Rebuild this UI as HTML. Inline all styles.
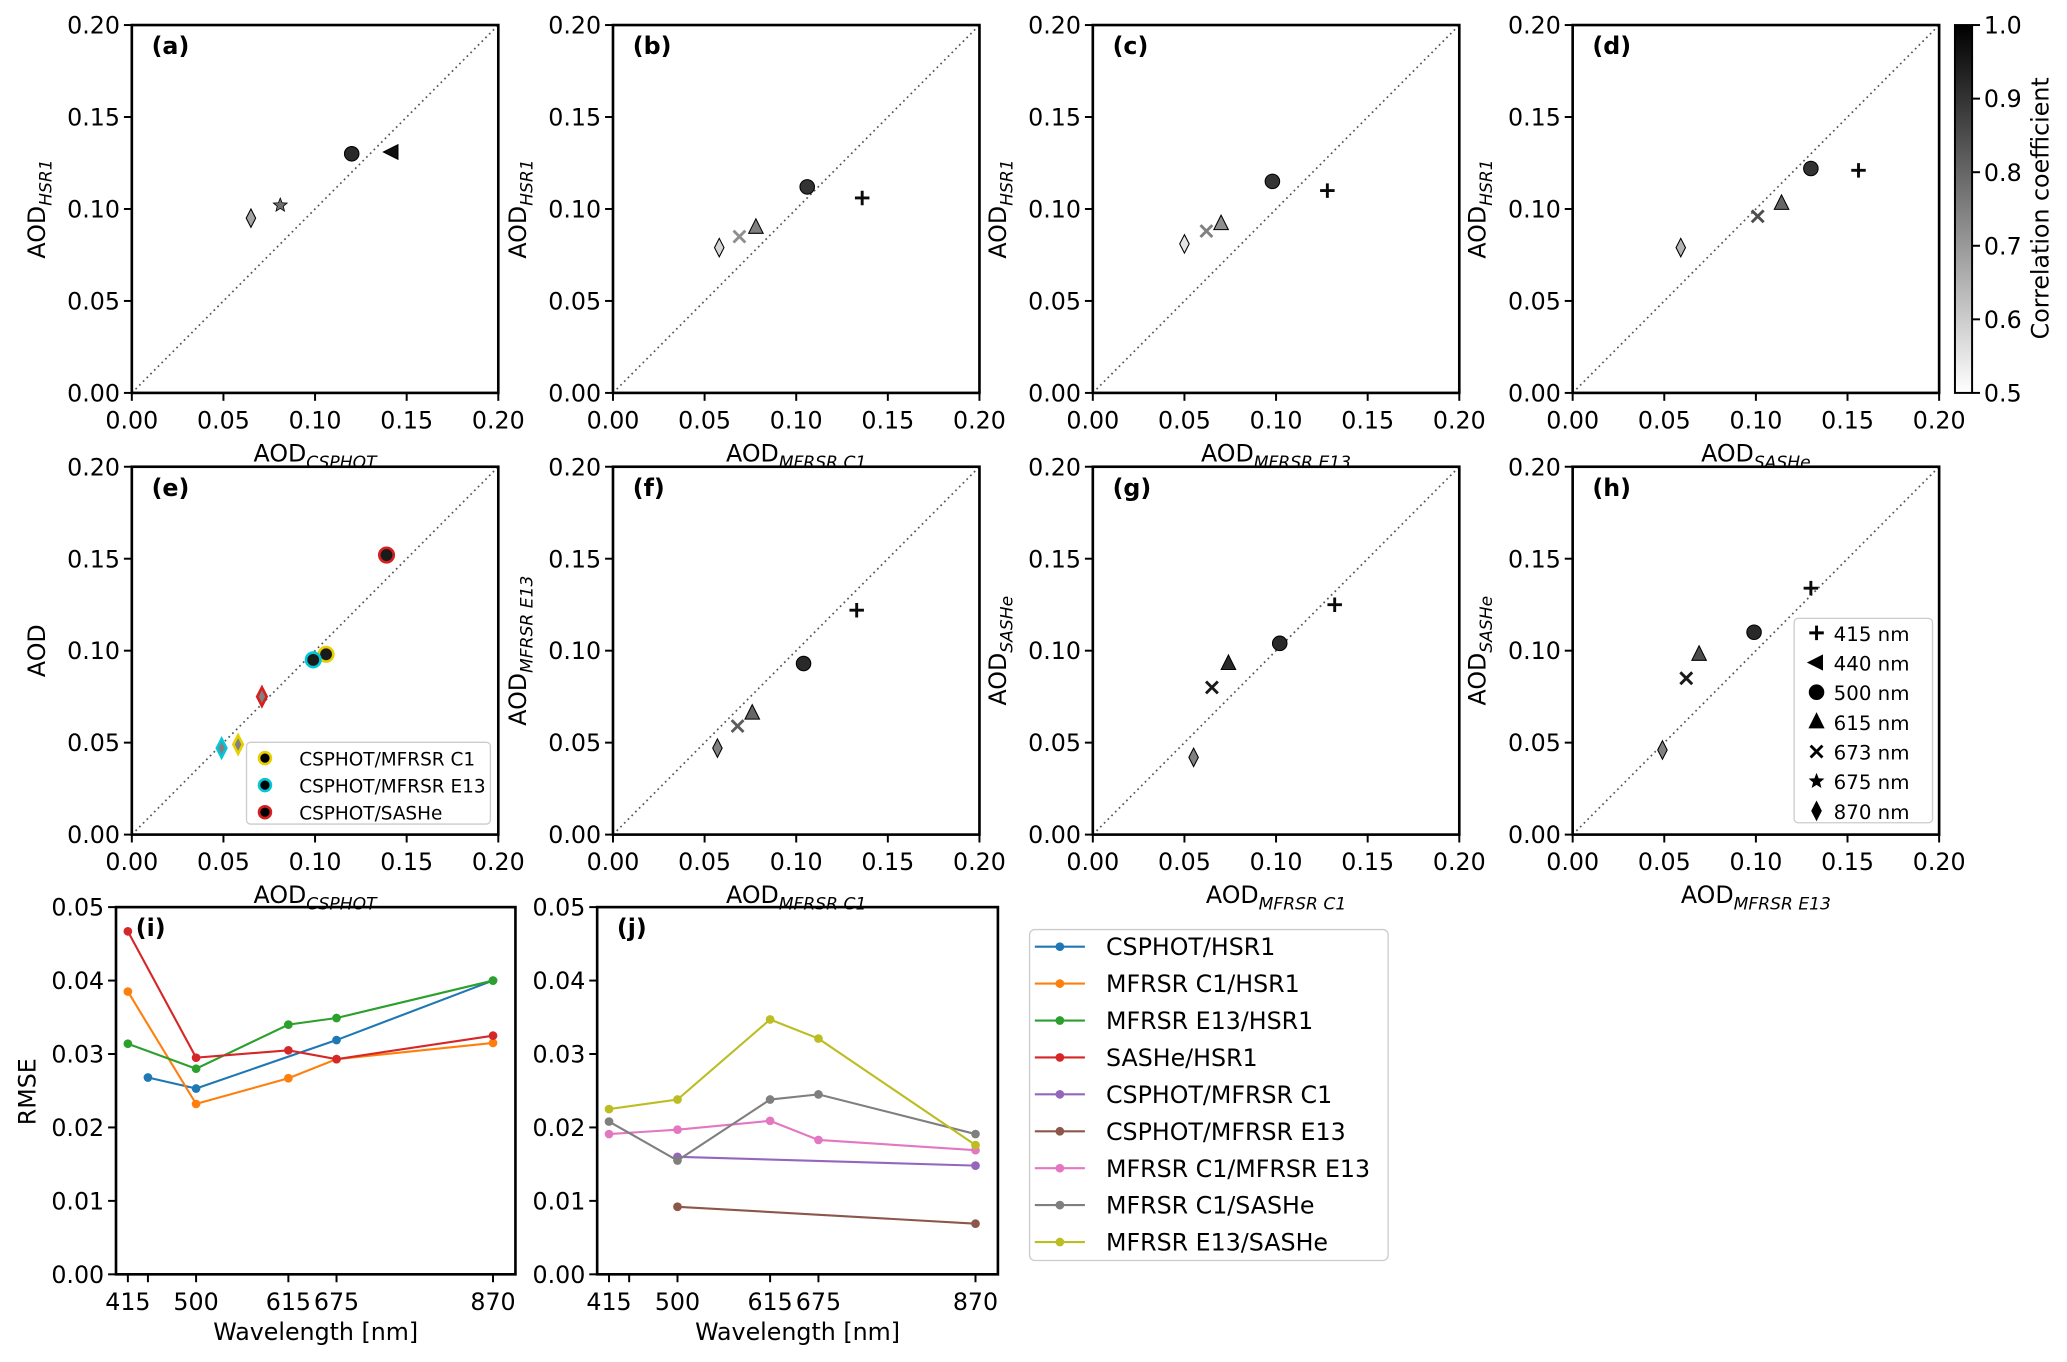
<!DOCTYPE html>
<html><head><meta charset="utf-8"><style>
html,body{margin:0;padding:0;background:#fff}
svg{display:block}
text{font-family:"DejaVu Sans","Liberation Sans",sans-serif;fill:#000}
</style></head><body>
<svg id="fig" xmlns="http://www.w3.org/2000/svg" width="2067" height="1362" viewBox="0 0 1568 1033" preserveAspectRatio="none">
<defs>
<linearGradient id="cbg" x1="0" y1="1" x2="0" y2="0"><stop offset="0" stop-color="#fff"/><stop offset="1" stop-color="#000"/></linearGradient>
</defs>
</svg>
<script>
// ---------- scatter data ----------
const aX=[0.142,0.120,0.081,0.065], aY=[0.131,0.130,0.102,0.095], aM=['tl','o','*','d'], aC=[0.97,0.92,0.78,0.68];
const bX=[0.136,0.106,0.078,0.069,0.058], bY=[0.106,0.112,0.090,0.085,0.079], bM=['+','o','^','x','d'], bC=[0.98,0.90,0.75,0.72,0.58];
const cX=[0.128,0.098,0.070,0.062,0.050], cY=[0.110,0.115,0.092,0.088,0.081], cM=['+','o','^','x','d'], cC=[0.98,0.90,0.72,0.75,0.55];
const dX=[0.156,0.130,0.114,0.101,0.059], dY=[0.121,0.122,0.103,0.096,0.079], dM=['+','o','^','x','d'], dC=[0.98,0.90,0.80,0.85,0.65];
const eX=[0.106,0.058,0.099,0.049,0.139,0.071], eY=[0.098,0.049,0.095,0.047,0.152,0.075], eM=['o','d','o','d','o','d'], eC=[0.95,0.75,0.95,0.75,0.95,0.75];
const eEdge=['#e6d000','#e6d000','#00c8d8','#00c8d8','#d62020','#d62020'];
const fX=[0.133,0.104,0.076,0.068,0.057], fY=[0.122,0.093,0.066,0.059,0.047], fM=['+','o','^','x','d'], fC=[0.98,0.92,0.80,0.82,0.75];
const gX=[0.132,0.102,0.074,0.065,0.055], gY=[0.125,0.104,0.093,0.080,0.042], gM=['+','o','^','x','d'], gC=[0.98,0.92,0.92,0.95,0.75];
const hX=[0.130,0.099,0.069,0.062,0.049], hY=[0.134,0.110,0.098,0.085,0.046], hM=['+','o','^','x','d'], hC=[0.98,0.92,0.85,0.95,0.75];
const aodTicks=['0.00','0.05','0.10','0.15','0.20'];
// ---------- line data ----------
const wlTicks=[415,440,500,615,675,870];
const wlLabels=['415','','500','615','675','870'];
const rmseTicks=['0.00','0.01','0.02','0.03','0.04','0.05'];
const sCsHsrW=[440,500,675,870], sCsHsr=[0.0268,0.0253,0.0319,0.0400];
const sC1HsrW=[415,500,615,675,870], sC1Hsr=[0.0385,0.0232,0.0267,0.0293,0.0315];
const sE13HsrW=[415,500,615,675,870], sE13Hsr=[0.0314,0.0280,0.0340,0.0349,0.0400];
const sSasHsrW=[415,500,615,675,870], sSasHsr=[0.0467,0.0295,0.0305,0.0293,0.0325];
const sCsC1W=[500,870], sCsC1=[0.0160,0.0148];
const sCsE13W=[500,870], sCsE13=[0.0092,0.0069];
const sC1E13W=[415,500,615,675,870], sC1E13=[0.0191,0.0197,0.0209,0.0183,0.0169];
const sC1SasW=[415,500,615,675,870], sC1Sas=[0.0208,0.0155,0.0238,0.0245,0.0191];
const sE13SasW=[415,500,615,675,870], sE13Sas=[0.0225,0.0238,0.0347,0.0321,0.0176];
const legendNames=['CSPHOT/HSR1','MFRSR C1/HSR1','MFRSR E13/HSR1','SASHe/HSR1','CSPHOT/MFRSR C1','CSPHOT/MFRSR E13','MFRSR C1/MFRSR E13','MFRSR C1/SASHe','MFRSR E13/SASHe'];
const legendColors=['#1f77b4','#ff7f0e','#2ca02c','#d62728','#9467bd','#8c564b','#e377c2','#7f7f7f','#bcbd22'];

const NS='http://www.w3.org/2000/svg';
const svg=document.getElementById('fig');
function mk(tag,attrs,parent){const e=document.createElementNS(NS,tag);for(const k in attrs)e.setAttribute(k,attrs[k]);(parent||svg).appendChild(e);return e;}
function txt(s,x,y,size,anchor,parent,extra){const t=mk('text',Object.assign({x:x,y:y,'font-size':size,'text-anchor':anchor||'start'},extra||{}),parent);t.innerHTML=s;return t;}
function gray(c){const v=Math.round(255*(1-(c-0.5)/0.5));return 'rgb('+v+','+v+','+v+')';}

function marker(g,type,x,y,fill,edge){
  let e;const r=5.5;
  if(type==='o')e=mk('circle',{cx:x,cy:y,r:r,fill:fill,stroke:edge,'stroke-width':edge==='#000'?0.8:2},g);
  else if(type==='^')e=mk('polygon',{points:`${x},${y-r-1} ${x-r},${y+r-1} ${x+r},${y+r-1}`,fill:fill,stroke:'#000','stroke-width':0.8},g);
  else if(type==='tl')e=mk('polygon',{points:`${x-r-1},${y} ${x+r-1},${y-r} ${x+r-1},${y+r}`,fill:fill,stroke:'#000','stroke-width':0.8},g);
  else if(type==='d')e=mk('polygon',{points:`${x},${y-r-1.5} ${x-3.6},${y} ${x},${y+r+1.5} ${x+3.6},${y}`,fill:fill,stroke:edge,'stroke-width':edge==='#000'?0.8:2},g);
  else if(type==='+')e=mk('path',{d:`M${x-r},${y}H${x+r}M${x},${y-r}V${y+r}`,stroke:fill,'stroke-width':2.2,fill:'none'},g);
  else if(type==='x')e=mk('path',{d:`M${x-4.5},${y-4.5}L${x+4.5},${y+4.5}M${x-4.5},${y+4.5}L${x+4.5},${y-4.5}`,stroke:fill,'stroke-width':2.2,fill:'none'},g);
  else if(type==='*'){let p=[];for(let i=0;i<10;i++){const a=-Math.PI/2+i*Math.PI/5;const rr=i%2?2.4:5.5;p.push((x+rr*Math.cos(a)).toFixed(2)+','+(y+rr*Math.sin(a)).toFixed(2));}e=mk('polygon',{points:p.join(' '),fill:fill,stroke:'#000','stroke-width':0.6},g);}
  return e;
}

function scatterPanel(id,L,T,xs,ys,ms,cs,letter,xlab,xsub,ylab,ysub,edges){
  const W=278,H=279;
  const g=mk('g',{});
  
  
  const sx=v=>L+v/0.2*W, sy=v=>T+H-v/0.2*H;
  mk('line',{x1:sx(0),y1:sy(0),x2:sx(0.2),y2:sy(0.2),stroke:'#555','stroke-width':1.3,'stroke-dasharray':'1.3,2.7'},g);
  aodTicks.forEach((t,i)=>{const v=+t;
    mk('line',{x1:sx(v),y1:T+H,x2:sx(v),y2:T+H+6,stroke:'#000','stroke-width':1.5},g);
    txt(t,sx(v),T+H+27,18,'middle',g);
    mk('line',{x1:L,y1:sy(v),x2:L-6,y2:sy(v),stroke:'#000','stroke-width':1.5},g);
    txt(t,L-9,sy(v)+6.5,18,'end',g);
  });
  for(let i=0;i<xs.length;i++){
    const m=marker(g,ms[i],sx(xs[i]),sy(ys[i]),gray(cs[i]),edges?edges[i]:'#000');
    
    
  }
  mk('rect',{x:L,y:T,width:W,height:H,fill:'none',stroke:'#000','stroke-width':2},g);
  const pl=txt(letter,L+15,T+22,18,'start',g,{'font-weight':'bold'});
  
  
  const xl=txt(xlab+(xsub?'<tspan font-size="13" font-style="italic" dy="5">'+xsub+'</tspan>':''),L+W/2,T+H+52,18,'middle',g);
  
  
  const cx=L-66, cy=T+H/2;
  const yl=txt(ylab+(ysub?'<tspan font-size="13" font-style="italic" dy="5">'+ysub+'</tspan>':''),cx,cy,18,'middle',g,{transform:`rotate(-90 ${cx} ${cy})`});
  
  
  return g;
}
const R1=19, R2=354;
scatterPanel('a',100,R1,aX,aY,aM,aC,'(a)','AOD','CSPHOT','AOD','HSR1');
scatterPanel('b',465,R1,bX,bY,bM,bC,'(b)','AOD','MFRSR C1','AOD','HSR1');
scatterPanel('c',829,R1,cX,cY,cM,cC,'(c)','AOD','MFRSR E13','AOD','HSR1');
scatterPanel('d',1193,R1,dX,dY,dM,dC,'(d)','AOD','SASHe','AOD','HSR1');
scatterPanel('e',100,R2,eX,eY,eM,eC,'(e)','AOD','CSPHOT','AOD','',eEdge);
scatterPanel('f',465,R2,fX,fY,fM,fC,'(f)','AOD','MFRSR C1','AOD','MFRSR E13');
scatterPanel('g',829,R2,gX,gY,gM,gC,'(g)','AOD','MFRSR C1','AOD','SASHe');
scatterPanel('h',1193,R2,hX,hY,hM,hC,'(h)','AOD','MFRSR E13','AOD','SASHe');

// colorbar
(function(){
  const g=mk('g',{});
  
  
  mk('rect',{x:1483,y:19,width:13,height:279,fill:'url(#cbg)',stroke:'#000','stroke-width':1.5},g);
  ['0.5','0.6','0.7','0.8','0.9','1.0'].forEach((t,i)=>{const y=298-i*279/5;
    mk('line',{x1:1496,y1:y,x2:1502,y2:y,stroke:'#000','stroke-width':1.5},g);
    txt(t,1505,y+6.5,18,'start',g);});
  const l=txt('Correlation coefficient',1554,158,18,'middle',g,{transform:'rotate(-90 1554 158)'});
  
  
})();

// legend h
(function(){
  const g=mk('g',{});
  
  
  mk('rect',{x:1361,y:469,width:105,height:155,rx:3,fill:'#fff',stroke:'#ccc','stroke-width':1},g);
  const names=['415 nm','440 nm','500 nm','615 nm','673 nm','675 nm','870 nm'];
  const ms=['+','tl','o','^','x','*','d'];
  names.forEach((n,i)=>{const y=480+i*22.5;marker(g,ms[i],1378,y,'#000','#000');
    const t=txt(n,1391,y+6,15,'start',g);
    
    });
})();
// legend e
(function(){
  const g=mk('g',{});
  
  
  mk('rect',{x:187,y:563,width:185,height:62,rx:3,fill:'#fff',stroke:'#ccc','stroke-width':1},g);
  const names=['CSPHOT/MFRSR C1','CSPHOT/MFRSR E13','CSPHOT/SASHe'];
  const cols=['#e6d000','#00c8d8','#d62020'];
  names.forEach((n,i)=>{const y=575+i*20.5;mk('circle',{cx:201,cy:y,r:4.5,fill:'#000',stroke:cols[i],'stroke-width':2},g);
    const t=txt(n,227,y+5.5,14,'start',g);
    
    });
})();

// line panels
function linePanel(id,L,R,letter,series,ylabel){
  const T=688,B=966.5;
  const g=mk('g',{});
  
  
  const sx=w=>L+9+(w-415)*(R-L-26)/455, sy=v=>B-v/0.05*(B-T);
  wlTicks.forEach((w,i)=>{mk('line',{x1:sx(w),y1:B,x2:sx(w),y2:B+6,stroke:'#000','stroke-width':1.5},g);
    if(wlLabels[i])txt(wlLabels[i],sx(w),B+27,18,'middle',g);});
  rmseTicks.forEach(t=>{const v=+t;mk('line',{x1:L,y1:sy(v),x2:L-6,y2:sy(v),stroke:'#000','stroke-width':1.5},g);
    txt(t,L-9,sy(v)+6.5,18,'end',g);});
  series.forEach(s=>{
    const pts=s.w.map((w,i)=>sx(w).toFixed(2)+','+sy(s.v[i]).toFixed(2)).join(' ');
    const pl=mk('polyline',{points:pts,fill:'none',stroke:s.c,'stroke-width':1.6},g);
    
    
    s.w.forEach((w,i)=>{const c=mk('circle',{cx:sx(w),cy:sy(s.v[i]),r:3.3,fill:s.c},g);
      
      });
  });
  mk('rect',{x:L,y:T,width:R-L,height:B-T,fill:'none',stroke:'#000','stroke-width':2},g);
  txt(letter,L+15,T+22,18,'start',g,{'font-weight':'bold'});
  const xl=txt('Wavelength [nm]',(L+R)/2,B+50,18,'middle',g);
  
  
  if(ylabel){const y=txt(ylabel,27,828,18,'middle',g,{transform:'rotate(-90 27 828)'});
    
    }
}
linePanel('i',88,391,'(i)',[
 {n:'csphot-hsr1',w:sCsHsrW,v:sCsHsr,c:legendColors[0]},
 {n:'c1-hsr1',w:sC1HsrW,v:sC1Hsr,c:legendColors[1]},
 {n:'e13-hsr1',w:sE13HsrW,v:sE13Hsr,c:legendColors[2]},
 {n:'sashe-hsr1',w:sSasHsrW,v:sSasHsr,c:legendColors[3]}],'RMSE');
linePanel('j',453,757,'(j)',[
 {n:'csphot-c1',w:sCsC1W,v:sCsC1,c:legendColors[4]},
 {n:'csphot-e13',w:sCsE13W,v:sCsE13,c:legendColors[5]},
 {n:'c1-e13',w:sC1E13W,v:sC1E13,c:legendColors[6]},
 {n:'c1-sashe',w:sC1SasW,v:sC1Sas,c:legendColors[7]},
 {n:'e13-sashe',w:sE13SasW,v:sE13Sas,c:legendColors[8]}],null);

// big legend
(function(){
  const g=mk('g',{});
  
  
  mk('rect',{x:781,y:705,width:272,height:251,rx:4,fill:'#fff',stroke:'#ccc','stroke-width':1},g);
  legendNames.forEach((n,i)=>{const y=718+i*28;
    mk('line',{x1:785,y1:y,x2:823,y2:y,stroke:legendColors[i],'stroke-width':1.6},g);
    mk('circle',{cx:804,cy:y,r:3.3,fill:legendColors[i]},g);
    const t=txt(n,839,y+6.5,18,'start',g);
    
    });
})();
</script>
</body></html>
